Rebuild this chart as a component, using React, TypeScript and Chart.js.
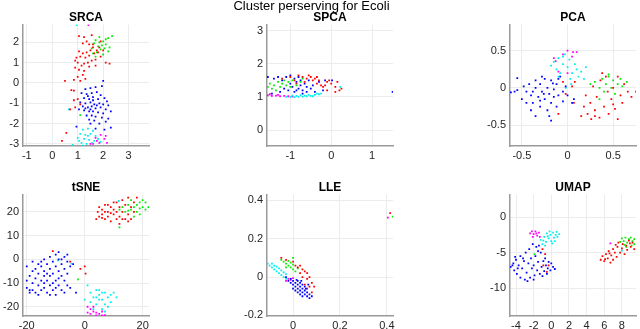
import React, { useEffect, useRef } from "react";
import { Chart, registerables } from "chart.js";
Chart.register(...registerables);

type P = [number, number];

const RED = "#ff0000";
const GREEN = "#00ee00";
const BLUE = "#0000ff";
const CYAN = "#00eeee";
const MAGENTA = "#ff00ff";

const mainTitle = "Cluster perserving for Ecoli";
const panelTitles = ["SRCA", "SPCA", "PCA", "tSNE", "LLE", "UMAP"];

// ---------- SRCA ----------
const srcaXTicks = [-1, 0, 1, 2, 3];
const srcaYTicks = [-3, -2, -1, 0, 1, 2];
const srcaRed: P[] = [
  [1.05, 2.3], [1.25, 2.25], [1.55, 2.35], [1.35, 2.05], [1.2, 1.95], [1.45, 1.9], [1.6, 1.75], [1.75, 1.6],
  [1.5, 1.6], [1.35, 1.5], [1.2, 1.45], [1.05, 1.55], [0.95, 1.25], [1.1, 1.3], [1.3, 1.25], [1.45, 1.35],
  [1.65, 1.45], [1.8, 1.5], [1.9, 1.3], [2.1, 1.0], [2.25, 0.95], [1.55, 1.1], [1.4, 1.0], [1.25, 0.95],
  [1.15, 0.85], [1.0, 1.0], [0.9, 1.1], [0.9, 0.75], [1.05, 0.65], [1.25, 0.6], [1.2, 0.4], [1.0, 0.3],
  [1.45, 0.8], [1.7, 1.15], [1.85, 1.75], [2.0, 1.6], [0.85, 0.15], [1.1, 0.1], [1.3, 0.2], [1.7, 0.85],
  [1.6, 1.9], [1.9, 2.05], [0.5, 0.1], [0.75, -0.35], [0.85, -0.38], [0.85, -0.85], [1.0, -0.8],
  [0.9, -1.2], [1.1, -1.05], [0.55, -2.45], [0.38, -2.85], [0.7, -1.3],
];
const srcaGreen: P[] = [
  [1.7, 2.1], [1.85, 2.0], [2.0, 2.05], [2.1, 1.9], [1.95, 1.85], [1.8, 1.8], [1.9, 1.65], [2.05, 1.7],
  [2.2, 1.55], [2.35, 2.3], [2.2, 2.2], [1.65, 1.95], [1.75, 1.5], [2.0, 1.4], [1.55, 1.7], [1.7, 1.3],
  [2.1, 2.15], [1.85, 2.25], [1.6, 1.45], [2.25, 1.75], [1.1, -1.58],
];
const srcaBlue: P[] = [
  [1.3, -0.3], [1.5, -0.25], [1.7, -0.2], [1.95, -0.15], [2.0, 0.1], [1.15, -0.5], [1.35, -0.55], [1.55, -0.5],
  [1.75, -0.45], [1.9, -0.6], [1.25, -0.75], [1.45, -0.8], [1.6, -0.7], [1.8, -0.8], [2.05, -0.75], [1.1, -0.95],
  [1.3, -1.0], [1.5, -0.95], [1.65, -1.05], [1.85, -1.0], [2.0, -1.05], [2.2, -1.1], [1.2, -1.15], [1.4, -1.2],
  [1.55, -1.15], [1.7, -1.25], [1.9, -1.2], [2.1, -1.3], [1.25, -1.35], [1.45, -1.4], [1.6, -1.4], [1.8, -1.45],
  [2.0, -1.5], [2.3, -1.4], [1.35, -1.6], [1.55, -1.6], [1.7, -1.65], [1.95, -1.7], [1.45, -1.8], [1.65, -1.85],
  [1.5, -2.0], [1.85, -2.0], [2.1, -1.9], [1.3, -1.25], [1.75, -1.1], [1.5, -1.3], [1.6, -0.85], [1.4, -0.65],
  [2.15, -0.9], [1.05, -1.3], [2.2, -1.75], [2.3, -2.2], [2.05, -2.3], [0.95, -2.15], [1.7, -2.25],
];
const srcaCyan: P[] = [
  [1.2, -2.3], [1.4, -2.25], [1.6, -2.35], [1.1, -2.5], [1.3, -2.55], [1.5, -2.5], [1.7, -2.6], [1.0, -2.7],
  [1.25, -2.75], [1.45, -2.8], [1.65, -2.85], [1.15, -2.95], [1.35, -3.0], [1.55, -2.95], [1.8, -2.75],
  [1.2, -3.08], [0.8, -3.05], [1.05, -2.85], [1.4, -2.6], [1.9, -2.9], [0.96, 2.84], [0.65, -1.3],
];
const srcaMagenta: P[] = [
  [1.7, -2.7], [1.9, -2.55], [2.05, -2.75], [2.15, -2.95], [1.85, -2.95], [1.6, -3.0], [2.1, -2.6],
  [1.75, -2.85], [1.5, -3.0], [1.42, 2.84],
];

// ---------- SPCA ----------
const spcaXTicks = [-1, 0, 1];
const spcaYTicks = [0, 1, 2, 3];
const spcaMagenta: P[] = [
  [-1.55, 1.05], [-1.45, 1.03], [-1.35, 1.04], [-1.25, 1.02], [-1.15, 1.03], [-1.05, 1.02], [-0.95, 1.01],
  [-1.5, 1.08], [-1.3, 1.06],
];
const spcaCyan: P[] = [
  [-1.1, 1.0], [-1.0, 1.0], [-0.9, 0.99], [-0.8, 1.0], [-0.7, 1.01], [-0.6, 1.02], [-0.5, 1.03], [-0.4, 1.06],
  [-0.3, 1.08], [-0.25, 1.1], [-0.85, 1.03], [-0.65, 1.04], [-0.55, 1.06], [-0.45, 1.02], [-0.75, 1.05],
  [-0.95, 1.04], [-0.35, 1.1], [0.22, 1.3],
];
const spcaGreen: P[] = [
  [-1.55, 1.3], [-1.5, 1.4], [-1.45, 1.25], [-1.4, 1.35], [-1.3, 1.45], [-1.25, 1.3], [-1.2, 1.4], [-1.1, 1.35],
  [-1.05, 1.45], [-1.0, 1.3], [-0.95, 1.5], [-1.35, 1.2], [-1.15, 1.5], [-0.85, 1.35], [-0.75, 1.45], [-0.7, 1.55],
];
const spcaBlue: P[] = [
  [-1.55, 1.6], [-1.4, 1.55], [-1.3, 1.6], [-1.2, 1.5], [-1.1, 1.6], [-1.0, 1.65], [-1.05, 1.2], [-0.95, 1.3],
  [-0.9, 1.15], [-0.85, 1.45], [-0.8, 1.25], [-0.75, 1.35], [-0.7, 1.2], [-0.65, 1.4], [-0.6, 1.3], [-0.55, 1.5],
  [-0.5, 1.25], [-0.45, 1.35], [-0.4, 1.15], [-0.9, 1.55], [-0.8, 1.6], [-1.15, 1.25], [-1.25, 1.15],
  [-0.7, 1.1], [-0.6, 1.15], [-1.45, 1.1], [-0.3, 1.45], [-0.2, 1.2], [-0.15, 1.5], [-0.75, 1.5], [-1.0, 1.4],
  [-0.85, 1.2], [1.5, 1.15], [0.02, 1.5],
];
const spcaRed: P[] = [
  [-1.2, 1.55], [-1.0, 1.6], [-0.9, 1.5], [-0.8, 1.65], [-0.7, 1.6], [-0.6, 1.55], [-0.55, 1.65], [-0.5, 1.6],
  [-0.45, 1.5], [-0.4, 1.55], [-0.35, 1.4], [-0.3, 1.5], [-0.25, 1.35], [-0.2, 1.3], [-0.1, 1.45], [-0.05, 1.5],
  [0.0, 1.4], [0.1, 1.3], [0.15, 1.45], [0.2, 1.2], [0.25, 1.25], [-0.1, 1.2], [-0.65, 1.45], [-0.85, 1.4],
  [-0.15, 1.35], [0.1, 1.15], [-0.35, 1.6],
];

// ---------- PCA ----------
const pcaXTicks = [-0.5, 0, 0.5];
const pcaYTicks = [-0.5, 0, 0.5];
const pcaBlue: P[] = [
  [-0.62, -0.06], [-0.58, -0.05], [-0.55, 0.13], [-0.55, -0.03], [-0.5, -0.15], [-0.45, -0.05], [-0.42, 0.05],
  [-0.4, -0.1], [-0.38, -0.2], [-0.35, 0.0], [-0.35, 0.1], [-0.32, -0.12], [-0.3, -0.25], [-0.3, 0.05],
  [-0.28, -0.05], [-0.25, 0.12], [-0.25, -0.15], [-0.22, -0.3], [-0.22, 0.0], [-0.2, -0.08], [-0.18, 0.1],
  [-0.18, -0.2], [-0.15, -0.02], [-0.15, -0.12], [-0.12, 0.05], [-0.12, -0.25], [-0.1, -0.1], [-0.08, 0.15],
  [-0.05, -0.05], [-0.05, -0.18], [-0.02, 0.02], [0.0, -0.1], [0.05, -0.2], [-0.4, -0.3], [-0.35, -0.38],
  [-0.45, -0.2], [-0.2, -0.38], [-0.18, -0.44], [-0.28, 0.15], [-0.48, 0.02], [-0.1, 0.12], [0.07, -0.15],
  [-0.3, -0.17], [-0.38, -0.05], [-0.26, -0.08], [-0.16, 0.06],
];
const pcaCyan: P[] = [
  [-0.18, 0.3], [-0.15, 0.35], [-0.12, 0.25], [-0.1, 0.4], [-0.08, 0.2], [-0.05, 0.32], [-0.03, 0.45],
  [0.0, 0.28], [0.02, 0.38], [0.05, 0.2], [0.08, 0.32], [0.1, 0.25], [0.12, 0.15], [0.15, 0.22], [-0.1, 0.15],
  [0.03, 0.12], [0.2, 0.28], [-0.05, 0.42], [0.04, 0.05], [-0.02, 0.0], [0.18, 0.12],
];
const pcaMagenta: P[] = [
  [-0.15, 0.4], [-0.05, 0.45], [0.0, 0.5], [0.1, 0.48], [0.05, 0.42], [-0.1, 0.22], [-0.13, 0.36], [0.0, 0.2],
  [0.06, 0.48],
];
const pcaGreen: P[] = [
  [0.25, 0.05], [0.3, 0.08], [0.35, 0.0], [0.38, 0.12], [0.42, 0.05], [0.45, 0.15], [0.48, 0.0], [0.5, 0.1],
  [0.55, 0.05], [0.58, 0.12], [0.6, 0.02], [0.65, 0.08], [0.4, -0.05], [0.35, -0.15], [0.52, -0.08], [0.45, 0.18],
];
const pcaRed: P[] = [
  [0.18, -0.25], [0.2, -0.1], [0.22, -0.35], [0.25, -0.2], [0.28, 0.02], [0.3, -0.3], [0.32, -0.12],
  [0.35, -0.4], [0.36, 0.1], [0.4, -0.25], [0.42, 0.15], [0.45, -0.35], [0.48, -0.15], [0.5, 0.0],
  [0.52, -0.28], [0.55, -0.42], [0.58, -0.1], [0.6, -0.2], [0.62, 0.05], [0.66, -0.05], [0.7, -0.12],
  [0.75, -0.05], [0.38, 0.2], [0.3, -0.38], [0.26, -0.42], [0.44, -0.05], [0.55, 0.15], [0.5, -0.22],
  [0.15, -0.38], [-0.05, 0.08], [-0.02, -0.08], [0.07, -0.2], [0.05, 0.02], [0.08, 0.08], [-0.1, -0.35],
];

// ---------- tSNE ----------
const tsneXTicks = [-20, 0, 20];
const tsneYTicks = [-20, -10, 0, 10, 20];
const tsneBlue: P[] = [
  [-20, -3], [-19, -7], [-19, -13], [-18, -1], [-18, -5], [-18, -10], [-17, -8], [-17, -14], [-16, -2], [-16, -6],
  [-16, -11], [-15, -3], [-15, -9], [-15, -13], [-14, 0], [-14, -5], [-14, -7], [-14, -12], [-13, -2], [-13, -9],
  [-13, -14], [-12, 1], [-12, -4], [-12, -7], [-12, -11], [-11, -1], [-11, -6], [-11, -13], [-10, 2], [-10, -3],
  [-10, -9], [-10, -15], [-9, 3], [-9, 0], [-9, -5], [-9, -11], [-8, -2], [-8, -7], [-8, -13], [-7, 1], [-7, -4],
  [-7, -9], [-7, -14], [-6, -1], [-6, -6], [-6, -11], [-5, -3], [-5, -12], [-17, -4], [-16, -15], [-20, -9],
  [-19, -14], [-13, -6], [-11, -10], [-9, -8], [-15, -1], [-12, -15], [-8, 0], [-10, -12], [-6, 2], [-18, -13],
  [-4, -2], [-3, -14], [-14, -10], [-20, -12],
];
const tsneRed: P[] = [
  [4, 17], [4.5, 20], [5, 18], [5, 22], [6, 19], [6, 21], [7, 17], [7, 23], [8, 20], [8, 18], [9, 22], [9, 16],
  [10, 19], [10, 24], [10, 21], [11, 17], [11, 20], [12, 22], [12, 18], [13, 25], [13, 20], [14, 17], [14, 23],
  [15, 19], [15, 26], [16, 22], [16, 17], [17, 24], [17, 20], [18, 26], [6, 17.5], [8, 23], [11, 24], [13, 17],
  [12, 15], [15, 16], [9, 19.5], [7, 20], [-11, 3.5], [-1.5, -4], [0, -3], [0.3, -6], [-5, -1],
];
const tsneGreen: P[] = [
  [12, 21], [13, 22], [14, 20], [15, 23], [16, 21], [17, 22], [18, 23], [19, 24], [20, 22], [21, 21], [18, 20],
  [19, 19], [20, 25], [17, 18], [16, 25], [21, 24], [22, 22], [19, 21.5], [15, 20.5], [12, 13.5], [-2.3, -8.5],
];
const tsneCyan: P[] = [
  [1, -11], [2, -14], [3, -16], [4, -13], [5, -15], [6, -17], [7, -14], [8, -16], [9, -15], [10, -14], [2, -18],
  [4, -19], [5, -17], [6, -21], [7, -19], [8, -20], [3, -21], [5, -13], [9, -18], [6, -14], [4, -16], [7, -22],
  [11, -16], [0, -17], [11.8, 24.6], [-9.2, -0.4], [-4.6, -1.8],
];
const tsneMagenta: P[] = [
  [1, -20], [2, -21], [3, -22], [4, -22.5], [5, -23], [6, -22], [7, -23.5], [2, -23], [4, -23.6], [3, -20],
  [6, -23.6], [1, -22.5],
];

// ---------- LLE ----------
const lleXTicks = [0, 0.2, 0.4];
const lleYTicks = [-0.2, 0, 0.2, 0.4];
const lleCyan: P[] = [
  [-0.108, 0.07], [-0.1, 0.06], [-0.09, 0.05], [-0.08, 0.06], [-0.08, 0.04], [-0.07, 0.03], [-0.06, 0.045],
  [-0.06, 0.02], [-0.05, 0.035], [-0.05, 0.01], [-0.04, 0.025], [-0.04, 0.0], [-0.03, 0.015], [-0.07, 0.055],
  [-0.09, 0.07], [-0.03, -0.01],
];
const lleGreen: P[] = [
  [-0.05, 0.09], [-0.04, 0.08], [-0.03, 0.07], [-0.02, 0.085], [-0.02, 0.06], [-0.01, 0.05], [0.0, 0.065],
  [0.0, 0.04], [0.01, 0.03], [-0.03, 0.05], [-0.01, 0.075], [0.02, 0.045], [0.0, 0.1], [0.425, 0.315],
];
const lleRed: P[] = [
  [-0.05, 0.1], [-0.03, 0.09], [0.0, 0.08], [0.02, 0.05], [0.03, 0.02], [0.04, 0.0], [0.05, 0.03], [0.06, -0.01],
  [0.07, 0.0], [0.08, -0.03], [0.09, -0.05], [0.07, -0.05], [0.05, -0.04], [0.06, 0.02], [0.04, 0.04],
  [0.08, -0.08], [0.01, 0.06], [0.03, 0.06], [0.06, -0.06], [0.414, 0.333],
];
const lleMagenta: P[] = [[-0.03, -0.02], [-0.02, -0.01], [-0.01, -0.015], [0.0, -0.005], [0.404, 0.31]];
const lleBlue: P[] = [
  [-0.03, 0.0], [-0.02, -0.02], [-0.01, -0.01], [0.0, -0.02], [0.0, -0.04], [0.01, -0.03], [0.01, -0.05],
  [0.02, -0.02], [0.02, -0.04], [0.02, -0.06], [0.03, -0.03], [0.03, -0.05], [0.03, -0.07], [0.04, -0.04],
  [0.04, -0.06], [0.04, -0.08], [0.05, -0.05], [0.05, -0.07], [0.05, -0.09], [0.06, -0.08], [0.06, -0.1],
  [0.07, -0.09], [0.07, -0.11], [0.08, -0.1], [0.04, -0.1], [0.02, -0.08], [0.0, -0.06], [-0.01, -0.03],
  [0.01, -0.07], [0.03, -0.09], [0.015, -0.015], [0.035, -0.02], [0.055, -0.06], [0.065, -0.04],
];

// ---------- UMAP ----------
const umapXTicks = [-4, -2, 0, 2, 4, 6, 8];
const umapYTicks = [-10, -5, 0];
const umapBlue: P[] = [
  [-4.6, -7], [-4.3, -6.5], [-4.2, -7.5], [-4, -6], [-3.9, -8], [-3.7, -6.8], [-3.5, -5.5], [-3.5, -8.5],
  [-3.3, -7.2], [-3.1, -6.2], [-3, -8.8], [-2.9, -5], [-2.8, -7.8], [-2.6, -6.5], [-2.5, -4.5], [-2.4, -8.5],
  [-2.3, -5.8], [-2.2, -7.2], [-2, -6.8], [-1.9, -8.2], [-1.8, -5.5], [-1.6, -7.5], [-1.5, -6.3], [-1.3, -8],
  [-1.2, -5], [-1.1, -7], [-0.9, -6.2], [-0.8, -7.6], [-0.6, -6.8], [-0.4, -7.2], [-0.3, -6.3], [-0.1, -7.5],
  [0.2, -7], [0.4, -7.3], [-2.7, -9], [-3.8, -7.2], [-4.4, -6.8], [-1.7, -4.2], [-1.4, -4], [-2.1, -3.8],
  [-0.5, -8], [-1.0, -8.3], [-3.2, -5.8], [-2.0, -8.8], [-4.1, -5.6], [-0.7, -5.8], [0.0, -6.5], [-1.5, -4.8],
];
const umapRed: P[] = [
  [-1, -4.5], [-0.7, -5.2], [-0.3, -6.8], [-0.5, -7.7], [-0.9, -6.8],
  [5.6, -6], [5.8, -5.5], [6, -6.2], [6.2, -5.2], [6.4, -5.8], [6.5, -4.8], [6.7, -6.4], [6.8, -5.4], [7, -4.5],
  [7, -6], [7.2, -5], [7.4, -5.6], [7.5, -4.2], [7.6, -3.6], [7.8, -5], [8, -4.4], [8.1, -3.8], [8.3, -5.2],
  [8.5, -4], [8.6, -4.6], [8.8, -3.3], [9, -4.2], [9.2, -3.6], [9.4, -4.5], [6.1, -5.9], [7.3, -3.9],
  [6.6, -5.1], [8.9, -3.7],
];
const umapGreen: P[] = [
  [7.8, -3.5], [8, -3], [8.2, -3.4], [8.4, -2.9], [8.6, -3.6], [8.8, -3.1], [9, -2.9], [9.2, -3.4], [9.4, -3.1],
  [8.5, -4.2], [9.1, -4], [8.3, -3.9], [9.4, -3.8], [-1.9, -5.2],
];
const umapMagenta: P[] = [
  [-2.4, -2.3], [-2.2, -2], [-2, -2.4], [-1.8, -2], [-1.6, -2.6], [-1.4, -2.2], [-2.1, -2.8], [-1.7, -2.3],
  [-1.3, -2.8], [6.7, -3.7],
];
const umapCyan: P[] = [
  [-1.2, -3.2], [-1, -3.8], [-0.8, -2.8], [-0.6, -3.5], [-0.5, -2.3], [-0.3, -3], [-0.1, -2.5], [0, -3.4],
  [0.2, -2.2], [0.3, -2.9], [0.5, -2.5], [0.7, -2.8], [0.9, -2.4], [-0.2, -2], [0.4, -3.4], [-0.7, -4],
  [-0.4, -2.7], [0.1, -3.7], [0.6, -2.1], [-0.9, -3.3], [8.0, -4.7],
];

type Series = { color: string; pts: P[] };
type Panel = {
  title: string;
  left: number;
  top: number;
  xr: [number, number];
  yr: [number, number];
  xTicks: number[];
  yTicks: number[];
  series: Series[];
};

const COLS = [23, 267, 510];
const ROWS = [24, 194];
const PW = 126;
const PH = 122;

const panels: Panel[] = [
  {
    title: panelTitles[0], left: COLS[0], top: ROWS[0], xr: [-1.15, 3.8], yr: [-3.1, 2.87],
    xTicks: srcaXTicks, yTicks: srcaYTicks,
    series: [
      { color: RED, pts: srcaRed }, { color: GREEN, pts: srcaGreen }, { color: BLUE, pts: srcaBlue },
      { color: CYAN, pts: srcaCyan }, { color: MAGENTA, pts: srcaMagenta },
    ],
  },
  {
    title: panelTitles[1], left: COLS[1], top: ROWS[0], xr: [-1.57, 1.51], yr: [-0.48, 3.18],
    xTicks: spcaXTicks, yTicks: spcaYTicks,
    series: [
      { color: GREEN, pts: spcaGreen }, { color: RED, pts: spcaRed }, { color: BLUE, pts: spcaBlue },
      { color: CYAN, pts: spcaCyan }, { color: MAGENTA, pts: spcaMagenta },
    ],
  },
  {
    title: panelTitles[2], left: COLS[2], top: ROWS[0], xr: [-0.63, 0.75], yr: [-0.78, 0.85],
    xTicks: pcaXTicks, yTicks: pcaYTicks,
    series: [
      { color: BLUE, pts: pcaBlue }, { color: RED, pts: pcaRed }, { color: GREEN, pts: pcaGreen },
      { color: CYAN, pts: pcaCyan }, { color: MAGENTA, pts: pcaMagenta },
    ],
  },
  {
    title: panelTitles[3], left: COLS[0], top: ROWS[1], xr: [-21.3, 22.2], yr: [-23.9, 27.3],
    xTicks: tsneXTicks, yTicks: tsneYTicks,
    series: [
      { color: BLUE, pts: tsneBlue }, { color: RED, pts: tsneRed }, { color: GREEN, pts: tsneGreen },
      { color: CYAN, pts: tsneCyan }, { color: MAGENTA, pts: tsneMagenta },
    ],
  },
  {
    title: panelTitles[4], left: COLS[1], top: ROWS[1], xr: [-0.111, 0.426], yr: [-0.203, 0.43],
    xTicks: lleXTicks, yTicks: lleYTicks,
    series: [
      { color: BLUE, pts: lleBlue }, { color: RED, pts: lleRed }, { color: GREEN, pts: lleGreen },
      { color: CYAN, pts: lleCyan }, { color: MAGENTA, pts: lleMagenta },
    ],
  },
  {
    title: panelTitles[5], left: COLS[2], top: ROWS[1], xr: [-4.68, 9.6], yr: [-13.9, 3.15],
    xTicks: umapXTicks, yTicks: umapYTicks,
    series: [
      { color: BLUE, pts: umapBlue }, { color: RED, pts: umapRed }, { color: GREEN, pts: umapGreen },
      { color: CYAN, pts: umapCyan }, { color: MAGENTA, pts: umapMagenta },
    ],
  },
];

const YW = 40; // y-axis box width
const XH = 22; // x-axis box height
const PT = 10; // top padding
const PR = 12; // right padding
const FONT = "'Liberation Sans', Arial, Helvetica, sans-serif";

function ScatterPanel({ p }: { p: Panel }) {
  const ref = useRef<HTMLCanvasElement | null>(null);
  useEffect(() => {
    if (!ref.current) return;
    const tickFont = { family: FONT, size: 11 };
    const chart = new Chart(ref.current, {
      type: "scatter",
      data: {
        datasets: p.series.map((s) => ({
          data: s.pts.map(([x, y]) => ({ x, y })),
          backgroundColor: s.color,
          borderColor: s.color,
          borderWidth: 0,
          pointStyle: "rect",
          pointRadius: 1.25,
          pointHoverRadius: 1.25,
        })),
      },
      options: {
        responsive: false,
        animation: false,
        events: [],
        devicePixelRatio: 1,
        layout: { padding: { top: PT, right: PR, left: 0, bottom: 0 } },
        plugins: { legend: { display: false }, title: { display: false }, tooltip: { enabled: false } },
        scales: {
          x: {
            type: "linear",
            min: p.xr[0],
            max: p.xr[1],
            afterBuildTicks: (axis: any) => {
              axis.ticks = p.xTicks.map((v) => ({ value: v }));
            },
            afterFit: (axis: any) => {
              axis.height = XH;
            },
            ticks: {
              font: tickFont,
              color: "#262626",
              padding: 3,
              maxRotation: 0,
              autoSkip: false,
              callback: (v: any) => String(v),
            },
            grid: { color: "#ececec", lineWidth: 1, drawTicks: false },
            border: { display: true, color: "#9a9a9a", width: 1.5 },
          },
          y: {
            type: "linear",
            min: p.yr[0],
            max: p.yr[1],
            afterBuildTicks: (axis: any) => {
              axis.ticks = p.yTicks.map((v) => ({ value: v }));
            },
            afterFit: (axis: any) => {
              axis.width = YW;
            },
            ticks: {
              font: tickFont,
              color: "#262626",
              padding: 4,
              autoSkip: false,
              callback: (v: any) => String(v),
            },
            grid: { color: "#ececec", lineWidth: 1, drawTicks: false },
            border: { display: true, color: "#9a9a9a", width: 1.5 },
          },
        },
      },
    } as any);
    return () => chart.destroy();
  }, [p]);

  const w = YW + PW + PR;
  const h = PT + PH + XH;
  return (
    <>
      <canvas
        ref={ref}
        width={w}
        height={h}
        style={{ position: "absolute", left: p.left - YW, top: p.top - PT, width: w, height: h }}
      />
      <div
        style={{
          position: "absolute",
          left: p.left,
          width: PW,
          top: p.top - 13.5,
          textAlign: "center",
          fontFamily: FONT,
          fontWeight: "bold",
          fontSize: 12,
          lineHeight: "12px",
          color: "#000",
          whiteSpace: "nowrap",
        }}
      >
        {p.title}
      </div>
    </>
  );
}

export default function App() {
  return (
    <div
      style={{
        position: "absolute",
        left: 0,
        top: 0,
        width: 640,
        height: 329,
        overflow: "hidden",
        background: "#fff",
      }}
    >
      {panels.map((p) => (
        <ScatterPanel key={p.title} p={p} />
      ))}
      <div
        style={{
          position: "absolute",
          left: 0,
          width: 623,
          top: -1,
          textAlign: "center",
          fontFamily: FONT,
          fontSize: 13,
          lineHeight: "13px",
          color: "#000",
          whiteSpace: "nowrap",
        }}
      >
        {mainTitle}
      </div>
    </div>
  );
}
